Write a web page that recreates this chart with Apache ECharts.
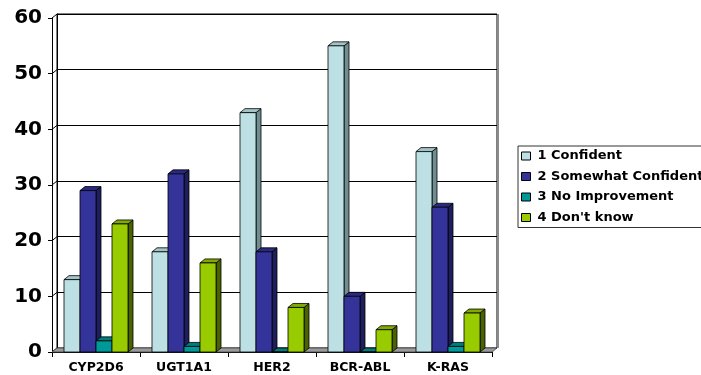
<!DOCTYPE html>
<html>
<head>
<meta charset="utf-8">
<script src="https://cdn.jsdelivr.net/npm/echarts@6/dist/echarts.min.js"></script>
<style>
  html, body { margin: 0; padding: 0; background: #fff; }
  #chart { width: 701px; height: 375px; }
</style>
</head>
<body>
<div id="chart"></div>
<script>
// Survey results per biomarker test
const categories = ['CYP2D6', 'UGT1A1', 'HER2', 'BCR-ABL', 'K-RAS'];
const confident = [13, 18, 43, 55, 36];
const somewhatConfident = [29, 32, 18, 10, 26];
const noImprovement = [2, 1, 0, 0, 1];
const dontKnow = [23, 16, 8, 4, 7];
const seriesNames = ['1 Confident', '2 Somewhat Confident', '3 No Improvement', "4 Don't know"];
const yTicks = [0, 10, 20, 30, 40, 50, 60];

// Depth of the pseudo-3D walls and columns (px)
const DX = 5, DY = 4;
const BAR_FRACTION = 16 / 88;

// face, side, top colours for each series
const palettes = [
  { face: '#BCE0E4', side: '#6E8E91', top: '#A2C4C7' },
  { face: '#333399', side: '#1E1E5C', top: '#2A2A84' },
  { face: '#009999', side: '#005A5A', top: '#007C7C' },
  { face: '#99CC00', side: '#4A6300', top: '#80AA00' }
];
const seriesValues = [confident, somewhatConfident, noImprovement, dontKnow];

const FONT = 'DejaVu Sans';

function barRenderer(idx) {
  const pal = palettes[idx];
  return function (params, api) {
    const top = api.coord([api.value(0), api.value(1)]);
    const base = api.coord([api.value(0), 0]);
    const band = api.size([1, 0])[0];
    const w = band * BAR_FRACTION;
    const x0 = top[0] - 2 * w + idx * w;
    const x1 = x0 + w;
    const yt = top[1];
    const yb = base[1];
    const stroke = { stroke: '#000', lineWidth: 0.8 };
    return {
      type: 'group',
      children: [
        {
          type: 'polygon',
          shape: { points: [[x1, yt], [x1 + DX, yt - DY], [x1 + DX, yb - DY], [x1, yb]] },
          style: Object.assign({ fill: pal.side }, stroke)
        },
        {
          type: 'polygon',
          shape: { points: [[x0, yt], [x1, yt], [x1 + DX, yt - DY], [x0 + DX, yt - DY]] },
          style: Object.assign({ fill: pal.top }, stroke)
        },
        {
          type: 'rect',
          shape: { x: x0, y: yt, width: w, height: yb - yt },
          style: Object.assign({ fill: pal.face }, stroke)
        }
      ]
    };
  };
}

const barSeries = seriesValues.map(function (vals, i) {
  return {
    name: seriesNames[i],
    type: 'custom',
    xAxisIndex: 1,
    yAxisIndex: 1,
    z: 10 + i,
    itemStyle: { color: palettes[i].face },
    renderItem: barRenderer(i),
    data: vals.map(function (v, c) { return [c, v]; })
  };
});

// Floor of the plot, spanning all categories
const floorSeries = {
  type: 'custom',
  xAxisIndex: 1,
  yAxisIndex: 1,
  z: 5,
  silent: true,
  legendHoverLink: false,
  renderItem: function (params, api) {
    const band = api.size([1, 0])[0];
    const a = api.coord([api.value(0), 0]);
    const b = api.coord([api.value(1), 0]);
    const xl = a[0] - band / 2, xr = b[0] + band / 2, y = a[1];
    return {
      type: 'group',
      children: [
        {
          type: 'polygon',
          shape: { points: [[xl, y], [xr, y], [xr + DX, y - DY], [xl + DX, y - DY]] },
          style: { fill: '#9A9A9A', stroke: '#444', lineWidth: 0.8 }
        },
        {
          // shaded right edge of the back wall
          type: 'line',
          shape: { x1: xr + DX + 1, y1: y - DY, x2: xr + DX + 1, y2: api.coord([0, 60])[1] - DY },
          style: { stroke: '#8A8A8A', lineWidth: 2 }
        }
      ]
    };
  },
  data: [[0, categories.length - 1]]
};

// Gridline segments on the left wall
const wallSeries = {
  type: 'custom',
  xAxisIndex: 1,
  yAxisIndex: 1,
  z: 4,
  silent: true,
  renderItem: function (params, api) {
    const band = api.size([1, 0])[0];
    const p = api.coord([0, api.value(0)]);
    const x = p[0] - band / 2;
    return {
      type: 'line',
      shape: { x1: x, y1: p[1], x2: x + DX, y2: p[1] - DY },
      style: { stroke: '#000', lineWidth: 1 }
    };
  },
  data: yTicks.map(function (v) { return [v]; })
};

const chart = echarts.init(document.getElementById('chart'), null, { renderer: 'canvas' });
chart.setOption({
  animation: false,
  backgroundColor: '#fff',
  grid: [
    // back wall
    { left: 57, right: 204, top: 14, bottom: 27, show: true, borderColor: '#000', borderWidth: 1, backgroundColor: 'transparent' },
    // front plane (axes)
    { left: 52, right: 209, top: 18, bottom: 23 }
  ],
  xAxis: [
    {
      gridIndex: 0, type: 'category', data: categories,
      axisLine: { show: false }, axisTick: { show: false }, axisLabel: { show: false }, splitLine: { show: false }
    },
    {
      gridIndex: 1, type: 'category', data: categories,
      axisLine: { show: true, lineStyle: { color: '#000', width: 1 } },
      axisTick: { show: true, length: 5, lineStyle: { color: '#000' } },
      axisLabel: { color: '#000', fontFamily: FONT, fontWeight: 'bold', fontSize: 12.5, margin: 9 },
      splitLine: { show: false }
    }
  ],
  yAxis: [
    {
      gridIndex: 0, type: 'value', min: 0, max: 60, interval: 10,
      axisLine: { show: true, lineStyle: { color: '#000', width: 1 } },
      axisTick: { show: false }, axisLabel: { show: false },
      splitLine: { show: true, lineStyle: { color: '#000', width: 1 } }
    },
    {
      gridIndex: 1, type: 'value', min: 0, max: 60, interval: 10,
      axisLine: { show: true, lineStyle: { color: '#000', width: 1 } },
      axisTick: { show: true, length: 4, lineStyle: { color: '#000' } },
      axisLabel: { color: '#000', fontFamily: FONT, fontWeight: 'bold', fontSize: 20, margin: 10 },
      splitLine: { show: false }
    }
  ],
  legend: {
    orient: 'vertical',
    left: 518,
    top: 146,
    padding: [3, 6, 3, 3],
    itemWidth: 9,
    itemHeight: 8,
    itemGap: 6.5,
    icon: 'rect',
    borderColor: '#333',
    borderWidth: 1,
    itemStyle: { borderColor: '#000', borderWidth: 1 },
    textStyle: { color: '#000', fontFamily: FONT, fontWeight: 'bold', fontSize: 13, lineHeight: 14, padding: [0, 0, 0, 2] },
    data: seriesNames
  },
  series: [wallSeries, floorSeries].concat(barSeries)
});
</script>
</body>
</html>
